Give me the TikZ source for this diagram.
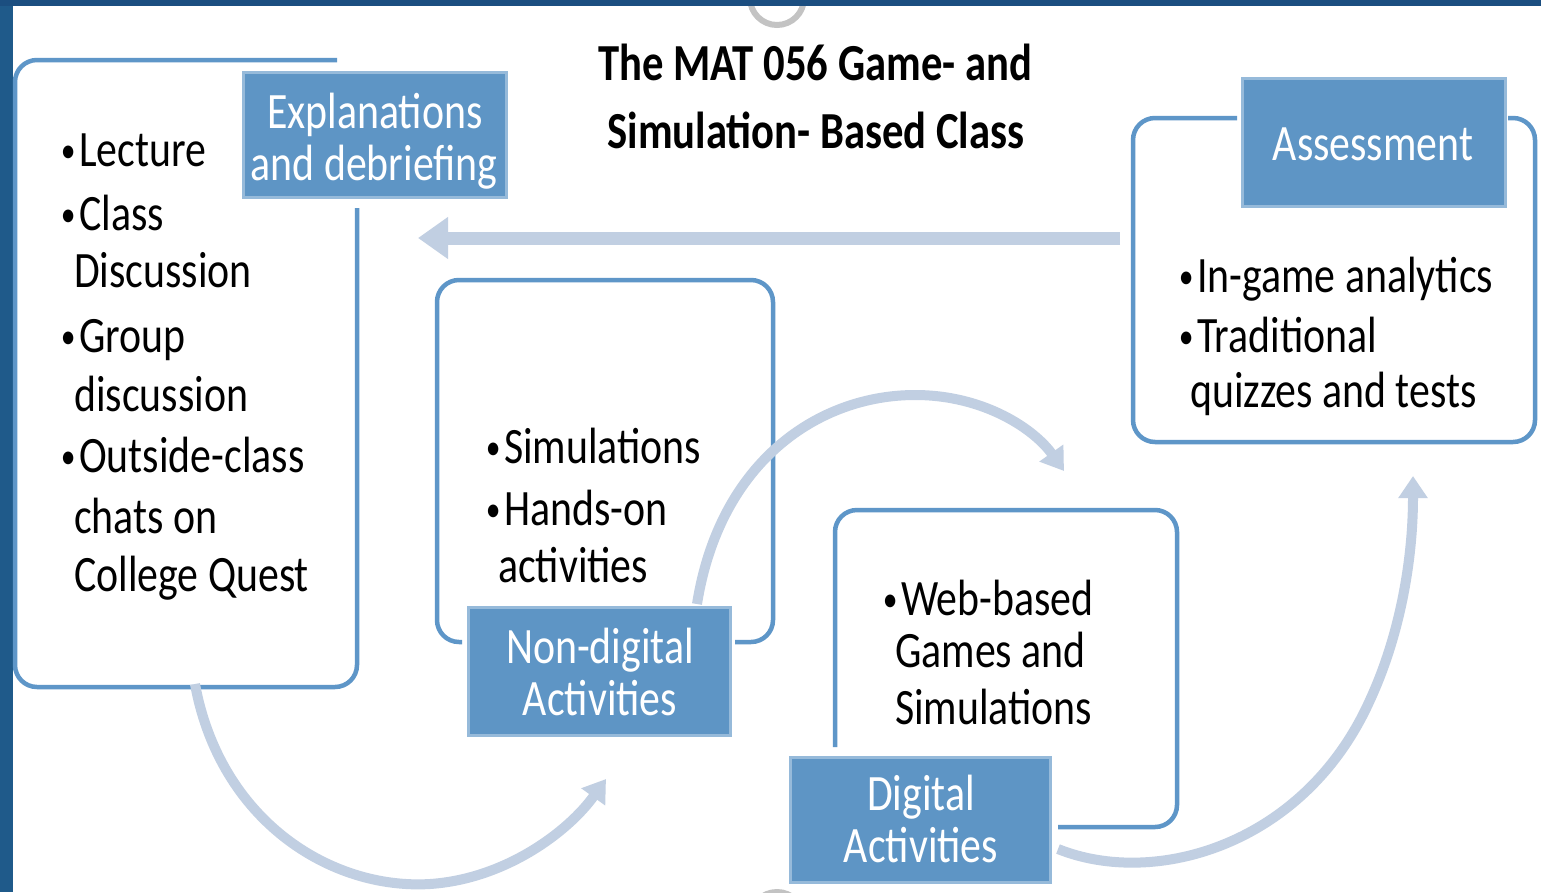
\documentclass[tikz,border=0pt]{standalone}
\usepackage{fontspec}
\setmainfont{Carlito}
\newfontfamily\bodyfont[FakeStretch=0.82]{Carlito}
\usetikzlibrary{arrows.meta}

\definecolor{frameblue}{RGB}{31,90,138}
\definecolor{framedark}{RGB}{27,78,128}
\definecolor{frameteal}{RGB}{42,122,155}
\definecolor{outlineblue}{RGB}{94,150,200}
\definecolor{tagfill}{RGB}{94,149,197}
\definecolor{tagrim}{RGB}{150,186,218}
\definecolor{flowblue}{RGB}{193,207,226}
\definecolor{ringgray}{RGB}{195,195,195}

% small list bullet
\newcommand\blt{\makebox[22pt][c]{\fontsize{36}{36}\selectfont\raisebox{4pt}{•}}}

\begin{document}
\begin{tikzpicture}[x=1pt,y=-1pt,
  boxline/.style={draw=outlineblue, line width=4.5pt, rounded corners=22pt},
  tag/.style={rectangle, fill=tagfill, draw=tagrim, line width=3pt, inner sep=0pt},
  bodytxt/.style={font=\bodyfont\fontsize{51}{51}\selectfont, inner sep=0pt, anchor=base west},
  tagtxt/.style={font=\bodyfont\fontsize{51}{51}\selectfont, text=white, inner sep=0pt, anchor=base},
  titletxt/.style={font=\bodyfont\bfseries\fontsize{52}{52}\selectfont, inner sep=0pt, anchor=base},
  flow/.style={draw=flowblue, line width=10pt, -{Triangle[length=22pt,width=28pt]}},
  bigflow/.style={draw=flowblue, line width=13pt, -{Triangle[length=30pt,width=40pt]}}]

% page area
\clip (0,0) rectangle (1541,892);
\fill[white] (0,0) rectangle (1541,892);

% grey rings at the top and bottom edge
\draw[ringgray, line width=6pt] (777,-2) circle[radius=27pt];
\draw[ringgray, line width=6pt] (777,919) circle[radius=27pt];

% slide frame
\fill[frameblue] (0,0) rectangle (13,892);
\shade[left color=framedark, middle color=frameteal, right color=framedark] (0,0) rectangle (1541,5);

% title
\node[titletxt] (title1) at (815,80) {The MAT 056 Game- and};
\node[titletxt] (title2) at (816,148) {Simulation- Based Class};

% open outlines of the four panels
\draw[boxline] (337,60) -- (15,60) -- (15,687) -- (357,687) -- (357,208);
\draw[boxline] (1237,118) -- (1133,118) -- (1133,442) -- (1535,442) -- (1535,118) -- (1508,118);
\draw[boxline] (462,642) -- (437,642) -- (437,280) -- (773,280) -- (773,642) -- (735,642);
\draw[boxline] (835,747) -- (835,510) -- (1177,510) -- (1177,827) -- (1058,827);

% tag boxes
\node[tag, minimum width=263pt, minimum height=125pt] (expl) at (374.5,134.5) {};
\node[tag, minimum width=263pt, minimum height=128pt] (assess) at (1373.5,142) {};
\node[tag, minimum width=262pt, minimum height=128pt] (nondig) at (599,671) {};
\node[tag, minimum width=260pt, minimum height=125pt] (digital) at (920,819.5) {};

% connector end points
\coordinate (fromAssess) at (1120,238);
\coordinate (toExpl) at (418,238);
\coordinate (leftFoot) at (195,684);
\coordinate (leftLow) at (430,884);
\coordinate (toNondig) at (606,779);
\coordinate (nondigTop) at (697,604);
\coordinate (archTop) at (915,395);
\coordinate (toDigital) at (1064,471);
\coordinate (digitalSide) at (1058,849);
\coordinate (rightBend) at (1370,700);
\coordinate (toAssess) at (1413,476);

% flow arrows
\draw[bigflow] (fromAssess) -- (toExpl);
\draw[flow] (leftFoot) .. controls (220,820) and (330,890) .. (leftLow)
  .. controls (505,879) and (568,832) .. (toNondig);
\draw[flow] (nondigTop) .. controls (720,460) and (820,395) .. (archTop)
  .. controls (985,395) and (1035,430) .. (toDigital);
\draw[flow] (digitalSide) .. controls (1155,888) and (1305,845) .. (rightBend)
  .. controls (1400,635) and (1413,560) .. (toAssess);

% tag captions
\node[tagtxt] (explA) at (375,128) {Explanations};
\node[tagtxt] (explB) at (374,180) {and debriefing};
\node[tagtxt] (assessA) at (1373,160) {Assessment};
\node[tagtxt] (nondigA) at (600,663) {Non-digital};
\node[tagtxt] (nondigB) at (600,715) {Activities};
\node[tagtxt] (digitalA) at (921,810) {Digital};
\node[tagtxt] (digitalB) at (921,862) {Activities};

% explanations panel
\node[bodytxt] (e1) at (57,166) {\blt Lecture};
\node[bodytxt] (e2) at (57,230) {\blt Class};
\node[bodytxt] (e3) at (74,287) {Discussion};
\node[bodytxt] (e4) at (57,352) {\blt Group};
\node[bodytxt] (e5) at (74,411) {discussion};
\node[bodytxt] (e6) at (57,472) {\blt Outside-class};
\node[bodytxt] (e7) at (74,533) {chats on};
\node[bodytxt] (e8) at (74,591) {College Quest};

% assessment panel
\node[bodytxt] (a1) at (1175,292) {\blt In-game analytics};
\node[bodytxt] (a2) at (1175,352) {\blt Traditional};
\node[bodytxt] (a3) at (1190,407) {quizzes and tests};

% non-digital panel
\node[bodytxt] (n1) at (482,463) {\blt Simulations};
\node[bodytxt] (n2) at (482,525) {\blt Hands-on};
\node[bodytxt] (n3) at (498,582) {activities};

% digital panel
\node[bodytxt] (d1) at (879,615) {\blt Web-based};
\node[bodytxt] (d2) at (895,667) {Games and};
\node[bodytxt] (d3) at (895,724) {Simulations};
\end{tikzpicture}
\end{document}
